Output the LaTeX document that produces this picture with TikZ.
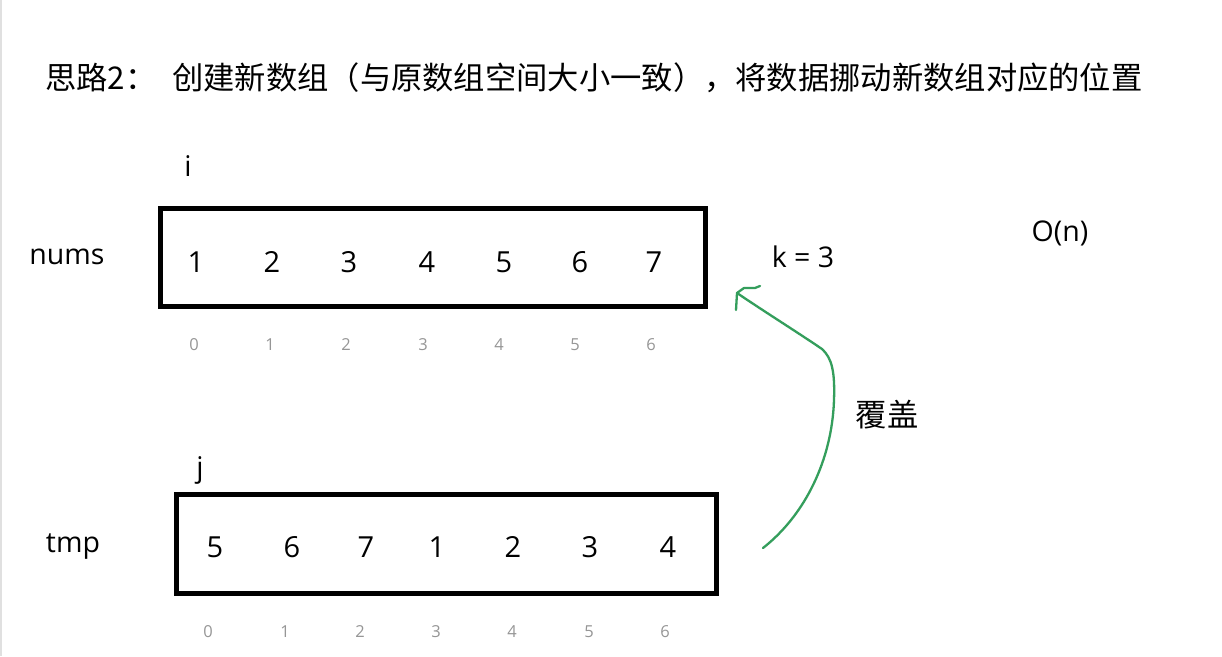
\documentclass[tikz,border=0pt]{standalone}
\usepackage{fontspec}
\setmainfont{Open Sans}
\newfontfamily\cjk{Noto Sans CJK SC}
\definecolor{penGreen}{RGB}{52,158,92}
\definecolor{idxGray}{RGB}{150,150,150}
\begin{document}
\begin{tikzpicture}[x=1pt,y=-1pt,
  lbl/.style={inner sep=0pt,font=\fontsize{28.5}{32}\selectfont},
  digit/.style={inner sep=0pt,font=\fontsize{29}{32}\selectfont},
  idx/.style={inner sep=0pt,text=idxGray,font=\fontsize{16.5}{18}\selectfont},
  cjktext/.style={inner sep=0pt,font=\fontsize{31.3}{34}\selectfont\cjk},
  pen/.style={draw=penGreen,line width=2.3pt,line cap=round,line join=round}]
\useasboundingbox (0,0) rectangle (1222,656);
\fill[white] (0,0) rectangle (1222,656);
\draw[black!12,line width=2pt] (1,0) -- (1,656);
% title
\node[cjktext,anchor=west] (t1) at (45,78) {思路2：};
\node[cjktext,anchor=west] (t2) at (172,78) {创建新数组（与原数组空间大小一致），将数据挪动新数组对应的位置};
% labels
\node[lbl] (nums) at (67,257) {nums};
\node[lbl] (tmp) at (73,547) {tmp};
\node[lbl] (i) at (188,166) {i};
\node[lbl] (j) at (200,470) {j};
\node[lbl] (k) at (803,257) {k = 3};
\node[lbl] (on) at (1060,233) {O(n)};
\node[cjktext] (cover) at (887,415) {覆盖};
% boxes
\draw[line width=5pt] (160,208) rectangle (705,306);
\draw[line width=5pt] (176,494) rectangle (716,593);
% nums digits
\foreach \v/\x [count=\n] in {1/196,2/272,3/349,4/427,5/504,6/580,7/654}
  \node[digit] (a\n) at (\x,262) {\v};
\foreach \v/\x [count=\n] in {0/194,1/270,2/346,3/423,4/499,5/575,6/651}
  \node[idx] (ai\n) at (\x,345) {\v};
% tmp digits
\foreach \v/\x [count=\n] in {5/215,6/292,7/366,1/437,2/513,3/590,4/668}
  \node[digit] (b\n) at (\x,547) {\v};
\foreach \v/\x [count=\n] in {0/208,1/285,2/360,3/436,4/512,5/589,6/665}
  \node[idx] (bi\n) at (\x,632) {\v};
% green hand-drawn arrow
\coordinate (cs) at (763,548);
\coordinate (ce) at (737,293);
\coordinate (hd) at (736,310);
\coordinate (hr) at (760,286);
\draw[pen] (cs) .. controls (805,515) and (832,460) .. (834,400)
  .. controls (835,372) and (832,358) .. (822,349)
  .. controls (797,332) and (765,312) .. (ce);
\draw[pen] (hd) -- (ce) -- (744,288) -- (755,288) -- (hr);
\end{tikzpicture}
\end{document}
